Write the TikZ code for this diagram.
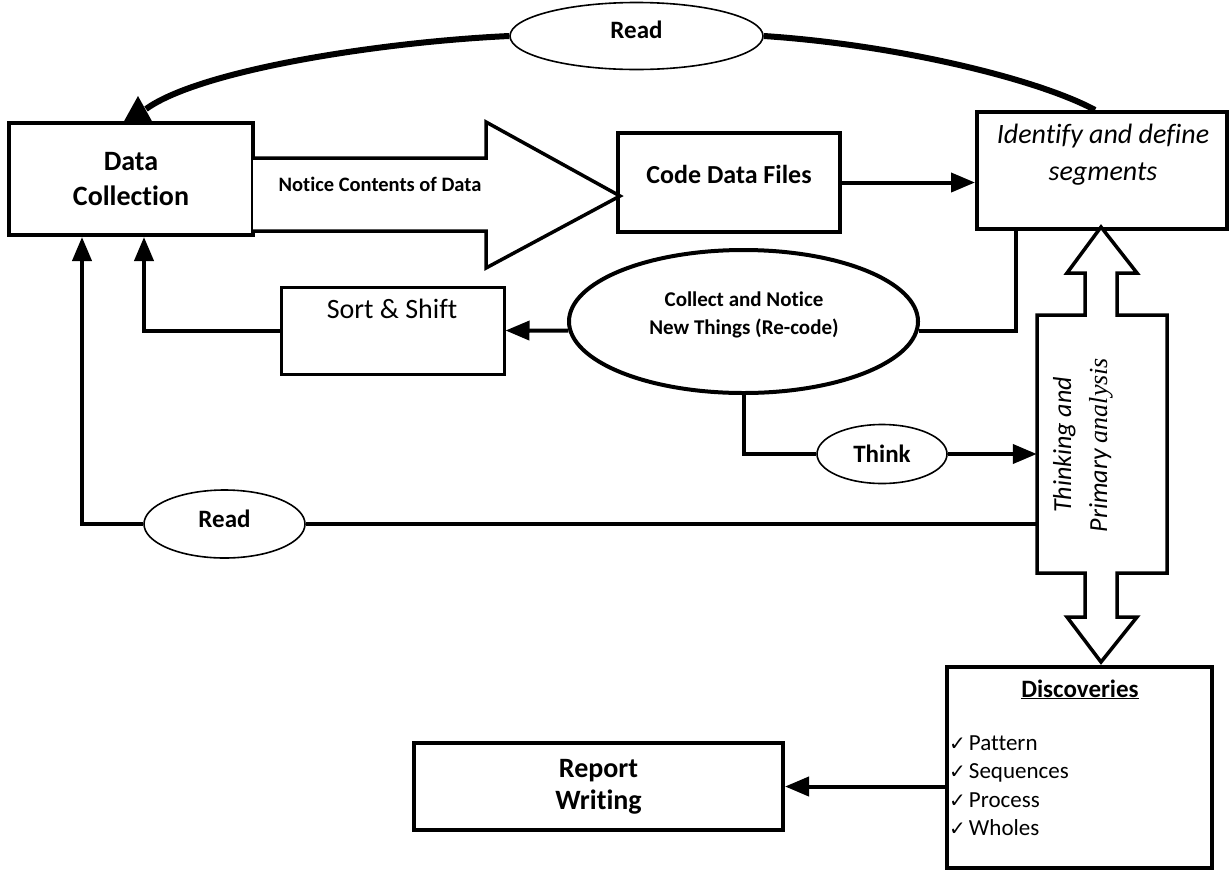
\documentclass[tikz,border=0pt]{standalone}
\usepackage{fontspec}
\setmainfont{Carlito}[Ligatures={NoCommon}]
\newfontfamily\timesfam{Liberation Serif}
\newfontfamily\symfam{DejaVu Sans}
\usetikzlibrary{arrows.meta,shapes.geometric}

\begin{document}
\begin{tikzpicture}[x=1pt,y=-1pt,
  box/.style={draw, line width=4pt, inner sep=0pt, line join=miter},
  conn/.style={line width=4pt},
  arr/.style={-{Triangle[length=24pt,width=19pt]}},
  oval/.style={ellipse, draw, fill=white, inner sep=0pt, line width=1.6pt},
  hollow/.style={draw, line width=3.5pt, line join=miter, fill=white},
  bigbold/.style={font=\bfseries\fontsize{28}{35}\selectfont},
  listitem/.style={anchor=base west, inner sep=0pt, font=\fontsize{23}{28}\selectfont}
]
\useasboundingbox (0,0) rectangle (1231,871);

% ---- main boxes ----
\node[box, minimum width=244pt, minimum height=112pt, align=center, bigbold] (dc) at (131,179) {Data\\Collection};
\node[box, minimum width=222pt, minimum height=99pt] (cdf) at (729,182.5) {};
\node[font=\bfseries\fontsize{26}{30}\selectfont] (cdftext) at (729,174) {Code Data Files};
\node[box, minimum width=250pt, minimum height=117pt] (idb) at (1102,170.5) {};
\node[align=center, font=\itshape\fontsize{28}{37}\selectfont] (idbtext) at (1103,155) {Identify and define\\segments};
\node[box, line width=3pt, minimum width=223pt, minimum height=87pt] (sort) at (392.5,330.5) {};
\node[font=\fontsize{28}{32}\selectfont] (sorttext) at (392,309) {Sort \& Shift};
\node[box, minimum width=265pt, minimum height=201pt] (disc) at (1079.5,767.5) {};
\node[anchor=base, inner sep=0pt, font=\bfseries\fontsize{25}{30}\selectfont] (disctitle) at (1080,697) {\underline{Discoveries}};
\node[listitem] (d1) at (949,750) {{\symfam\fontsize{20}{20}\selectfont ✓}\hspace{3pt}Pattern};
\node[listitem] (d2) at (949,778.5) {{\symfam\fontsize{20}{20}\selectfont ✓}\hspace{3pt}Sequences};
\node[listitem] (d3) at (949,807) {{\symfam\fontsize{20}{20}\selectfont ✓}\hspace{3pt}Process};
\node[listitem] (d4) at (949,835.5) {{\symfam\fontsize{20}{20}\selectfont ✓}\hspace{3pt}Wholes};
\node[box, minimum width=369pt, minimum height=87pt, align=center, font=\bfseries\fontsize{28}{32}\selectfont] (rw) at (598.5,786.5) {Report\\Writing};

% ---- block arrow: notice contents ----
\draw[hollow] (253,158) -- (486,158) -- (486,122) -- (620,196) -- (486,268) -- (486,231) -- (253,231);
\node[font=\bfseries\fontsize{20.5}{24}\selectfont] (notice) at (380,184) {Notice Contents of Data};

% ---- double block arrow with thinking panel ----
\draw[hollow] (1101,227) -- (1137,273) -- (1117,273) -- (1117,315) -- (1167,315) -- (1167,573)
  -- (1117,573) -- (1117,617) -- (1137,617) -- (1101,662) -- (1067,617) -- (1085,617)
  -- (1085,573) -- (1037,573) -- (1037,315) -- (1085,315) -- (1085,273) -- (1067,273) -- cycle;
\node[minimum width=130pt, minimum height=258pt, inner sep=0pt] (tp) at (1102,444) {};
\node[rotate=90, align=center, font=\itshape\fontsize{26}{36}\selectfont] (tptext) at (1083,445)
  {Thinking and\\Primary {\timesfam\fontsize{26}{36}\selectfont analysis}};

% ---- ovals ----
\node[oval, minimum width=253pt, minimum height=67pt, text depth=12pt, font=\bfseries\fontsize{25}{30}\selectfont] (readtop) at (636.5,36) {Read};
\node[oval, line width=4pt, minimum width=349pt, minimum height=143pt] (coll) at (743.5,321.5) {};
\node[align=center, font=\bfseries\fontsize{21}{28}\selectfont] (colltext) at (744,315) {Collect and Notice\\New Things (Re-code)};
\node[oval, minimum width=130pt, minimum height=59pt, font=\bfseries\fontsize{25}{30}\selectfont] (think) at (882,454) {Think};
\node[oval, minimum width=161pt, minimum height=68pt, text depth=10pt, font=\bfseries\fontsize{25}{30}\selectfont] (read2) at (224.5,524) {Read};

% ---- curved feedback over the top ----
\coordinate (rtip) at (146,109);
\draw[line width=6pt] ([xshift=-7pt]idb.north) .. controls (1040,80) and (900,45) .. (readtop.east);
\draw[line width=6pt] (readtop.west) .. controls (380,42) and (200,70) .. (rtip);
\fill (138,96) -- (153,123) -- (123,123) -- cycle;

% ---- connectors ----
\draw[conn, arr] (cdf.east) -- (cdf.east -| idb.west);
\draw[conn] ([xshift=-86pt]idb.south) |- (coll.-3);
\draw[conn, arr] (coll.183) -- (sort.east);
\draw[conn, arr] (sort.west) -| ([xshift=13pt]dc.south);
\draw[conn] (coll.south) |- (think.west);
\draw[conn, arr] (think.east) -- (think.east -| tp.west);
\draw[conn] (tp.west |- read2.east) -- (read2.east);
\draw[conn, arr] (read2.west) -| ([xshift=-49pt]dc.south);
\draw[conn, arr] (disc.west |- rw.east) -- (rw.east);
\end{tikzpicture}
\end{document}
